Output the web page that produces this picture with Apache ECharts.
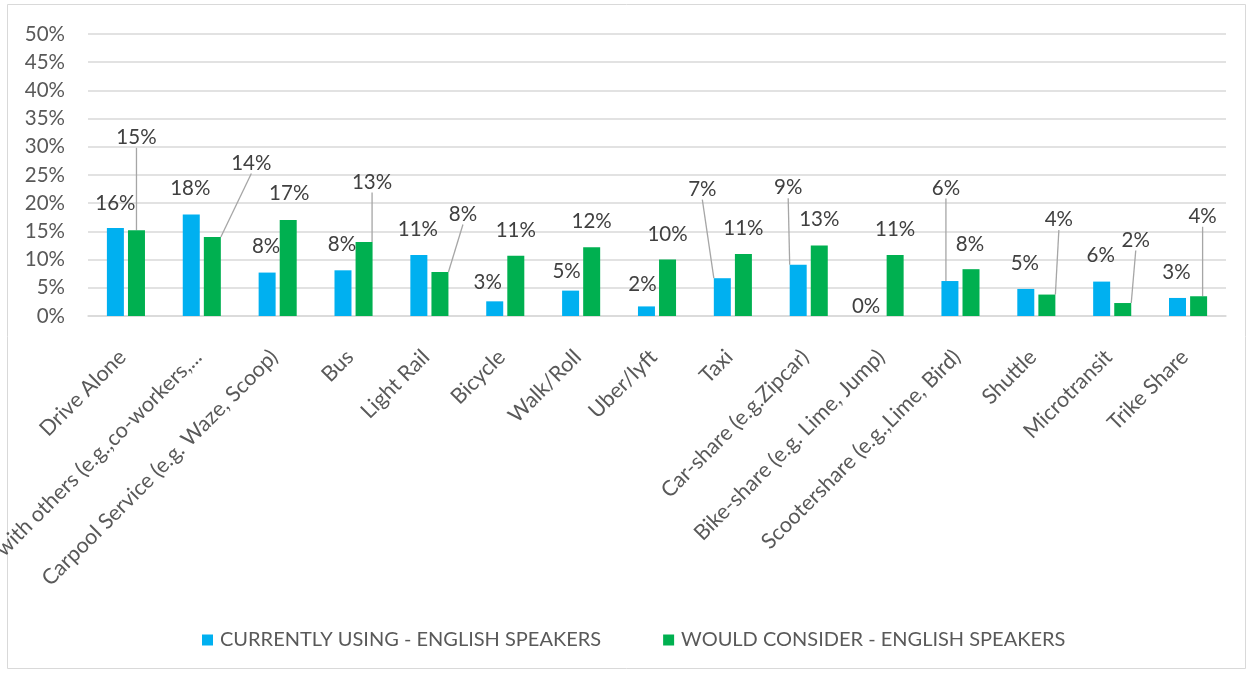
<!DOCTYPE html>
<html>
<head>
<meta charset="utf-8">
<script src="https://cdn.jsdelivr.net/npm/echarts@6/dist/echarts.min.js"></script>
<style>html,body{margin:0;padding:0;background:#fff}#c{width:1253px;height:673px}</style>
</head>
<body>
<div id="c"></div>
<script>
const categories = ["Drive Alone","Carpool with others (e.g.,co-workers,...","Carpool Service (e.g. Waze, Scoop)","Bus","Light Rail","Bicycle","Walk/Roll","Uber/lyft","Taxi","Car-share (e.g.Zipcar)","Bike-share (e.g. Lime, Jump)","Scootershare (e.g.,Lime, Bird)","Shuttle","Microtransit","Trike Share"];
const currentlyUsing = [15.6, 18.0, 7.7, 8.1, 10.8, 2.6, 4.5, 1.7, 6.7, 9.1, 0, 6.2, 4.8, 6.1, 3.2];
const wouldConsider = [15.2, 14.0, 17.0, 13.1, 7.8, 10.7, 12.2, 10.0, 11.0, 12.5, 10.8, 8.3, 3.8, 2.3, 3.5];
const yTicks = [0,5,10,15,20,25,30,35,40,45,50];
const seriesNames = ["CURRENTLY USING - ENGLISH SPEAKERS","WOULD CONSIDER - ENGLISH SPEAKERS"];

// label placement (style): offset of label centre from bar top-centre, and whether a leader line is drawn
const blueLabelOffsets = [[0,-25],[-1,-26],[-1,-26],[-1,-26],[-1,-26],[-7,-19],[-4,-19],[-4,-22],[-20,-89],[-10,-77],[-8,-10],[-4,-93],[-1,-26],[-1,-26],[-1,-26]];
const blueLeader = [0,0,0,0,0,0,0,0,1,1,0,1,0,0,0];
const greenLabelOffsets = [[0,-93],[39,-74],[1,-27],[8,-60],[23,-58],[0,-25],[0,-26],[0,-25],[0,-26],[0,-26],[0,-26],[-1,-25],[12,-75],[13,-63],[4,-80]];
const greenLeader = [1,1,0,1,1,0,0,0,0,0,0,0,1,1,1];

const FONT = 'Lato';
const TXT = '#595959';

function makeData(vals, leaders){
  return vals.map((v,i)=>({value:v, labelLine:{show: !!leaders[i]}}));
}
function makeLayout(offsets){
  return function(p){
    const o = offsets[p.dataIndex];
    const r = p.rect;
    const cx = r.x + r.width/2;
    const top = Math.min(r.y, r.y + r.height);
    const lr = p.labelRect;
    const lcx = lr.x + lr.width/2, lcy = lr.y + lr.height/2;
    return {dx: cx + o[0] - lcx, dy: top + o[1] - lcy};
  };
}
const labelCommon = {show:true, position:'top', distance:0, fontFamily:FONT, fontSize:20.5, color:'#404040', formatter: p => Math.round(p.value) + '%'};
const lineCommon = {lineStyle:{color:'#a6a6a6', width:1.3}, length:0, length2:0, smooth:false};

const chart = echarts.init(document.getElementById('c'), null, {renderer:'canvas'});
chart.setOption({
  animation:false,
  backgroundColor:'#fff',
  graphic:[{type:'rect', shape:{x:7.5,y:4.5,width:1238,height:664}, style:{fill:'none', stroke:'#d9d9d9', lineWidth:1}, silent:true}],
  grid:{left:88, right:27, top:34, bottom:357, outerBoundsMode:'none', containLabel:false},
  legend:{
    left:197, top:625, itemWidth:11, itemHeight:11, itemGap:62, icon:'rect',
    textStyle:{fontFamily:FONT, fontSize:20, color:TXT, padding:[0,0,0,2]},
    data:seriesNames
  },
  xAxis:{
    type:'category', data:categories,
    axisLine:{show:true, lineStyle:{color:'#d9d9d9', width:1.5}},
    axisTick:{show:false},
    axisLabel:{interval:0, rotate:45, fontFamily:FONT, fontSize:21.5, color:TXT, margin:34, padding:[0,5,0,0]}
  },
  yAxis:{
    type:'value', min:0, max:50, interval:5,
    axisLine:{show:false}, axisTick:{show:false},
    splitLine:{lineStyle:{color:'#d9d9d9', width:1.5}},
    axisLabel:{formatter: v => v + '%', fontFamily:FONT, fontSize:20.5, color:TXT, margin:23}
  },
  series:[
    {name:seriesNames[0], type:'bar', barWidth:17, barGap:'24%', itemStyle:{color:'#00B0F0'},
     data:makeData(currentlyUsing, blueLeader), label:labelCommon, labelLine:lineCommon,
     labelLayout:makeLayout(blueLabelOffsets)},
    {name:seriesNames[1], type:'bar', barWidth:17, barGap:'24%', itemStyle:{color:'#00B050'},
     data:makeData(wouldConsider, greenLeader), label:labelCommon, labelLine:lineCommon,
     labelLayout:makeLayout(greenLabelOffsets)}
  ]
});
</script>
</body>
</html>
